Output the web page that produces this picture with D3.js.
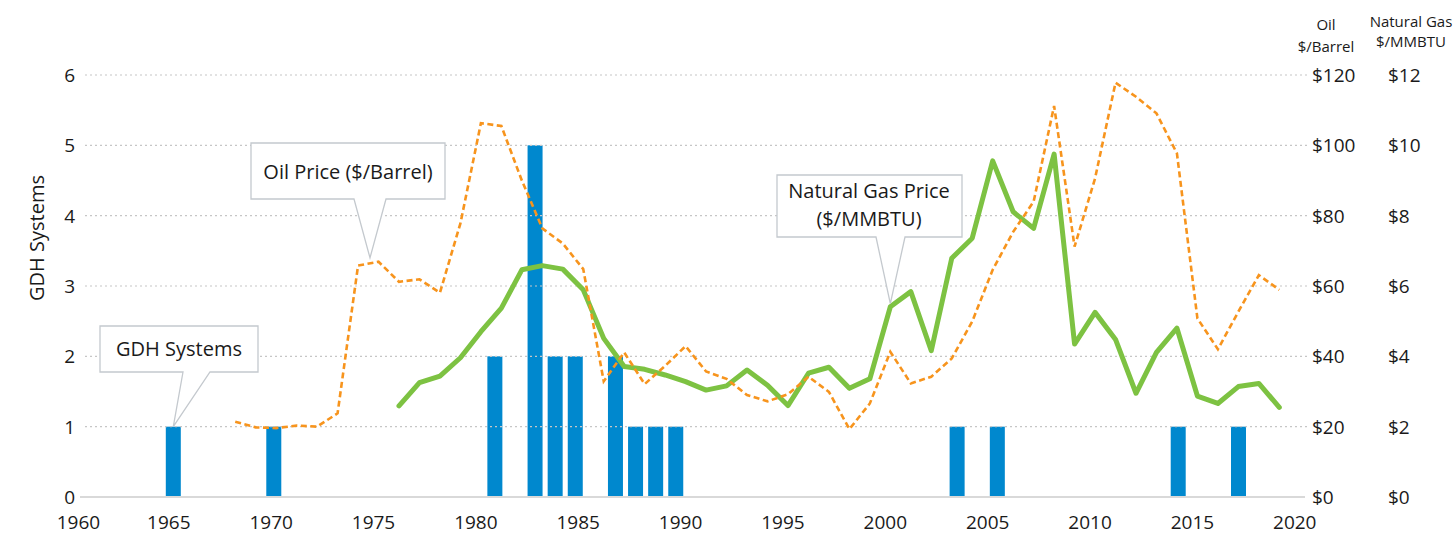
<!DOCTYPE html>
<html>
<head>
<meta charset="utf-8">
<script src="https://cdn.jsdelivr.net/npm/d3@7"></script>
<style>
  body { margin: 0; background: #fff; }
  text { font-family: "Open Sans", sans-serif; fill: #1a1a1a; }
</style>
</head>
<body>
<script>
// GDH systems installed per year (bars)
const gdhYears  = [1965, 1970, 1981, 1983, 1984, 1985, 1987, 1988, 1989, 1990, 2004, 2006, 2015, 2018];
const gdhCounts = [1, 1, 2, 5, 2, 2, 2, 1, 1, 1, 1, 1, 1, 1];

// oil price, $/barrel
const oilYears = [1968, 1969, 1970, 1971, 1972, 1973, 1974, 1975, 1976, 1977, 1978, 1979,
  1980, 1981, 1982, 1983, 1984, 1985, 1986, 1987, 1988, 1989,
  1990, 1991, 1992, 1993, 1994, 1995, 1996, 1997, 1998, 1999,
  2000, 2001, 2002, 2003, 2004, 2005, 2006, 2007, 2008, 2009,
  2010, 2011, 2012, 2013, 2014, 2015, 2016, 2017, 2018, 2019];
const oilPrice = [21.4, 19.8, 19.6, 20.3, 20.0, 23.8, 65.8, 66.9, 61.2, 61.9, 58.1, 77.8,
  106.3, 105.5, 90.0, 76.4, 72.1, 64.8, 32.9, 41.1, 32.1, 37.3,
  42.9, 35.7, 33.6, 29.0, 27.2, 29.2, 34.2, 29.9, 19.3, 26.6,
  41.3, 32.3, 34.2, 39.4, 49.9, 64.6, 75.4, 84.0, 111.2, 71.2,
  90.6, 117.8, 113.8, 109.1, 97.7, 50.8, 42.0, 52.7, 63.1, 58.9];

// natural gas price, $/MMBTU
const gasYears = [1976, 1977, 1978, 1979,
  1980, 1981, 1982, 1983, 1984, 1985, 1986, 1987, 1988, 1989,
  1990, 1991, 1992, 1993, 1994, 1995, 1996, 1997, 1998, 1999,
  2000, 2001, 2002, 2003, 2004, 2005, 2006, 2007, 2008, 2009,
  2010, 2011, 2012, 2013, 2014, 2015, 2016, 2017, 2018, 2019];
const gasPrice = [2.59, 3.25, 3.44, 3.96,
  4.70, 5.37, 6.46, 6.58, 6.48, 5.89, 4.51, 3.71, 3.63, 3.47,
  3.28, 3.04, 3.16, 3.61, 3.18, 2.60, 3.52, 3.69, 3.09, 3.36,
  5.41, 5.84, 4.16, 6.79, 7.36, 9.56, 8.11, 7.64, 9.75, 4.35,
  5.25, 4.48, 2.95, 4.11, 4.80, 2.87, 2.66, 3.14, 3.23, 2.55];

// tick labels
const xTicks    = [1960, 1965, 1970, 1975, 1980, 1985, 1990, 1995, 2000, 2005, 2010, 2015, 2020];
const gdhTicks  = [0, 1, 2, 3, 4, 5, 6];
const oilTicks  = [0, 20, 40, 60, 80, 100, 120];
const gasTicks  = [0, 2, 4, 6, 8, 10, 12];

const W = 1454, H = 535;
const GRID_LEFT = 85, GRID_RIGHT = 1310;
const AXIS_LEFT = 80, AXIS_RIGHT = 1305;
const Y_TOP = 75, Y_BOTTOM = 497;

const BAR_COLOR = '#0088ce';
const GAS_COLOR = '#7dc242';
const OIL_COLOR = '#f7941d';
const BOX_STROKE = '#c4c9ce';

const svg = d3.select('body').append('svg')
  .attr('width', W)
  .attr('height', H);

// scales
const y    = d3.scaleLinear().domain([0, 6]).range([Y_BOTTOM, Y_TOP]);
const yOil = d3.scaleLinear().domain([0, 120]).range([Y_BOTTOM, Y_TOP]);
const yGas = d3.scaleLinear().domain([0, 12]).range([Y_BOTTOM, Y_TOP]);
// price lines and year labels
const x    = d3.scaleLinear().domain([1976, 2019]).range([399, 1279.3]);
// the bars sit on their own, slightly tighter category spacing
const xBar = d3.scaleLinear().domain([1965, 2018]).range([173.3, 1238.5]);
const BAR_W = 15;

// bars
svg.append('g')
  .selectAll('rect')
  .data(gdhYears.map((yr, i) => ({ year: yr, n: gdhCounts[i] })))
  .join('rect')
    .attr('x', d => xBar(d.year) - BAR_W / 2)
    .attr('width', BAR_W)
    .attr('y', d => y(d.n))
    .attr('height', d => y(0) - y(d.n))
    .attr('fill', BAR_COLOR);

// dotted gridlines (drawn over bars, like the original)
svg.append('g')
  .selectAll('line')
  .data(gdhTicks.filter(t => t > 0))
  .join('line')
    .attr('x1', GRID_LEFT)
    .attr('x2', GRID_RIGHT)
    .attr('y1', d => y(d))
    .attr('y2', d => y(d))
    .attr('stroke', '#c6c6c6')
    .attr('stroke-width', 1.2)
    .attr('stroke-dasharray', '2,3');

// baseline
svg.append('line')
  .attr('x1', AXIS_LEFT).attr('x2', AXIS_RIGHT)
  .attr('y1', y(0)).attr('y2', y(0))
  .attr('stroke', '#d9d9d9')
  .attr('stroke-width', 2);

// gas line
const gasLine = d3.line()
  .x(d => x(d.year))
  .y(d => yGas(d.v));
svg.append('path')
  .datum(gasYears.map((yr, i) => ({ year: yr, v: gasPrice[i] })))
  .attr('d', gasLine)
  .attr('fill', 'none')
  .attr('stroke', GAS_COLOR)
  .attr('stroke-width', 5)
  .attr('stroke-linejoin', 'round')
  .attr('stroke-linecap', 'round');

// oil line
const oilLine = d3.line()
  .x(d => x(d.year))
  .y(d => yOil(d.v));
svg.append('path')
  .datum(oilYears.map((yr, i) => ({ year: yr, v: oilPrice[i] })))
  .attr('d', oilLine)
  .attr('fill', 'none')
  .attr('stroke', OIL_COLOR)
  .attr('stroke-width', 2.6)
  .attr('stroke-dasharray', '6,3.5');

// x axis labels (first one is nudged inward, as in the original)
svg.append('g')
  .selectAll('text')
  .data(xTicks)
  .join('text')
    .attr('x', (d, i) => x(d) - 5 + (i === 0 ? 12 : 0))
    .attr('y', 529)
    .attr('text-anchor', 'middle')
    .style('font-size', '19px')
    .text(d => d);

// left axis labels
svg.append('g')
  .selectAll('text')
  .data(gdhTicks)
  .join('text')
    .attr('x', 75)
    .attr('y', d => y(d) + 7)
    .attr('text-anchor', 'end')
    .style('font-size', '19px')
    .text(d => d);

svg.append('text')
  .attr('transform', 'translate(44,238) rotate(-90)')
  .attr('text-anchor', 'middle')
  .style('font-size', '20px')
  .text('GDH Systems');

// right axes: oil and gas
svg.append('g')
  .selectAll('text')
  .data(oilTicks)
  .join('text')
    .attr('x', 1312)
    .attr('y', d => yOil(d) + 7)
    .style('font-size', '19px')
    .text(d => '$' + d);

svg.append('g')
  .selectAll('text')
  .data(gasTicks)
  .join('text')
    .attr('x', 1388)
    .attr('y', d => yGas(d) + 7)
    .style('font-size', '19px')
    .text(d => '$' + d);

function header(cx, lines, baselines) {
  lines.forEach((t, i) => {
    svg.append('text')
      .attr('x', cx)
      .attr('y', baselines[i])
      .attr('text-anchor', 'middle')
      .style('font-size', '15px')
      .text(t);
  });
}
header(1326, ['Oil', '$/Barrel'], [30, 52]);
header(1411, ['Natural Gas', '$/MMBTU'], [27, 47]);

// callouts: box with a pointer to a point on the chart
function callout(box, base, tip, lines, baselines, cx) {
  const [x0, y0, x1, y1] = box;
  const p = d3.path();
  p.moveTo(x0, y0);
  p.lineTo(x1, y0);
  p.lineTo(x1, y1);
  p.lineTo(base[1], y1);
  p.lineTo(tip[0], tip[1]);
  p.lineTo(base[0], y1);
  p.lineTo(x0, y1);
  p.closePath();
  svg.append('path')
    .attr('d', p.toString())
    .attr('fill', '#fff')
    .attr('stroke', BOX_STROKE)
    .attr('stroke-width', 1.3);
  lines.forEach((t, i) => {
    svg.append('text')
      .attr('x', cx)
      .attr('y', baselines[i])
      .attr('text-anchor', 'middle')
      .style('font-size', '20px')
      .text(t);
  });
}

callout([100, 326, 258, 372], [183, 210], [xBar(1965), y(1)],
  ['GDH Systems'], [356], 179);
callout([251, 143, 445, 199], [354, 386], [370, yOil(68)],
  ['Oil Price ($/Barrel)'], [179], 348);
callout([777, 175, 962, 237], [876, 905], [x(2000), yGas(5.5)],
  ['Natural Gas Price', '($/MMBTU)'], [198, 226], 869);
</script>
</body>
</html>
